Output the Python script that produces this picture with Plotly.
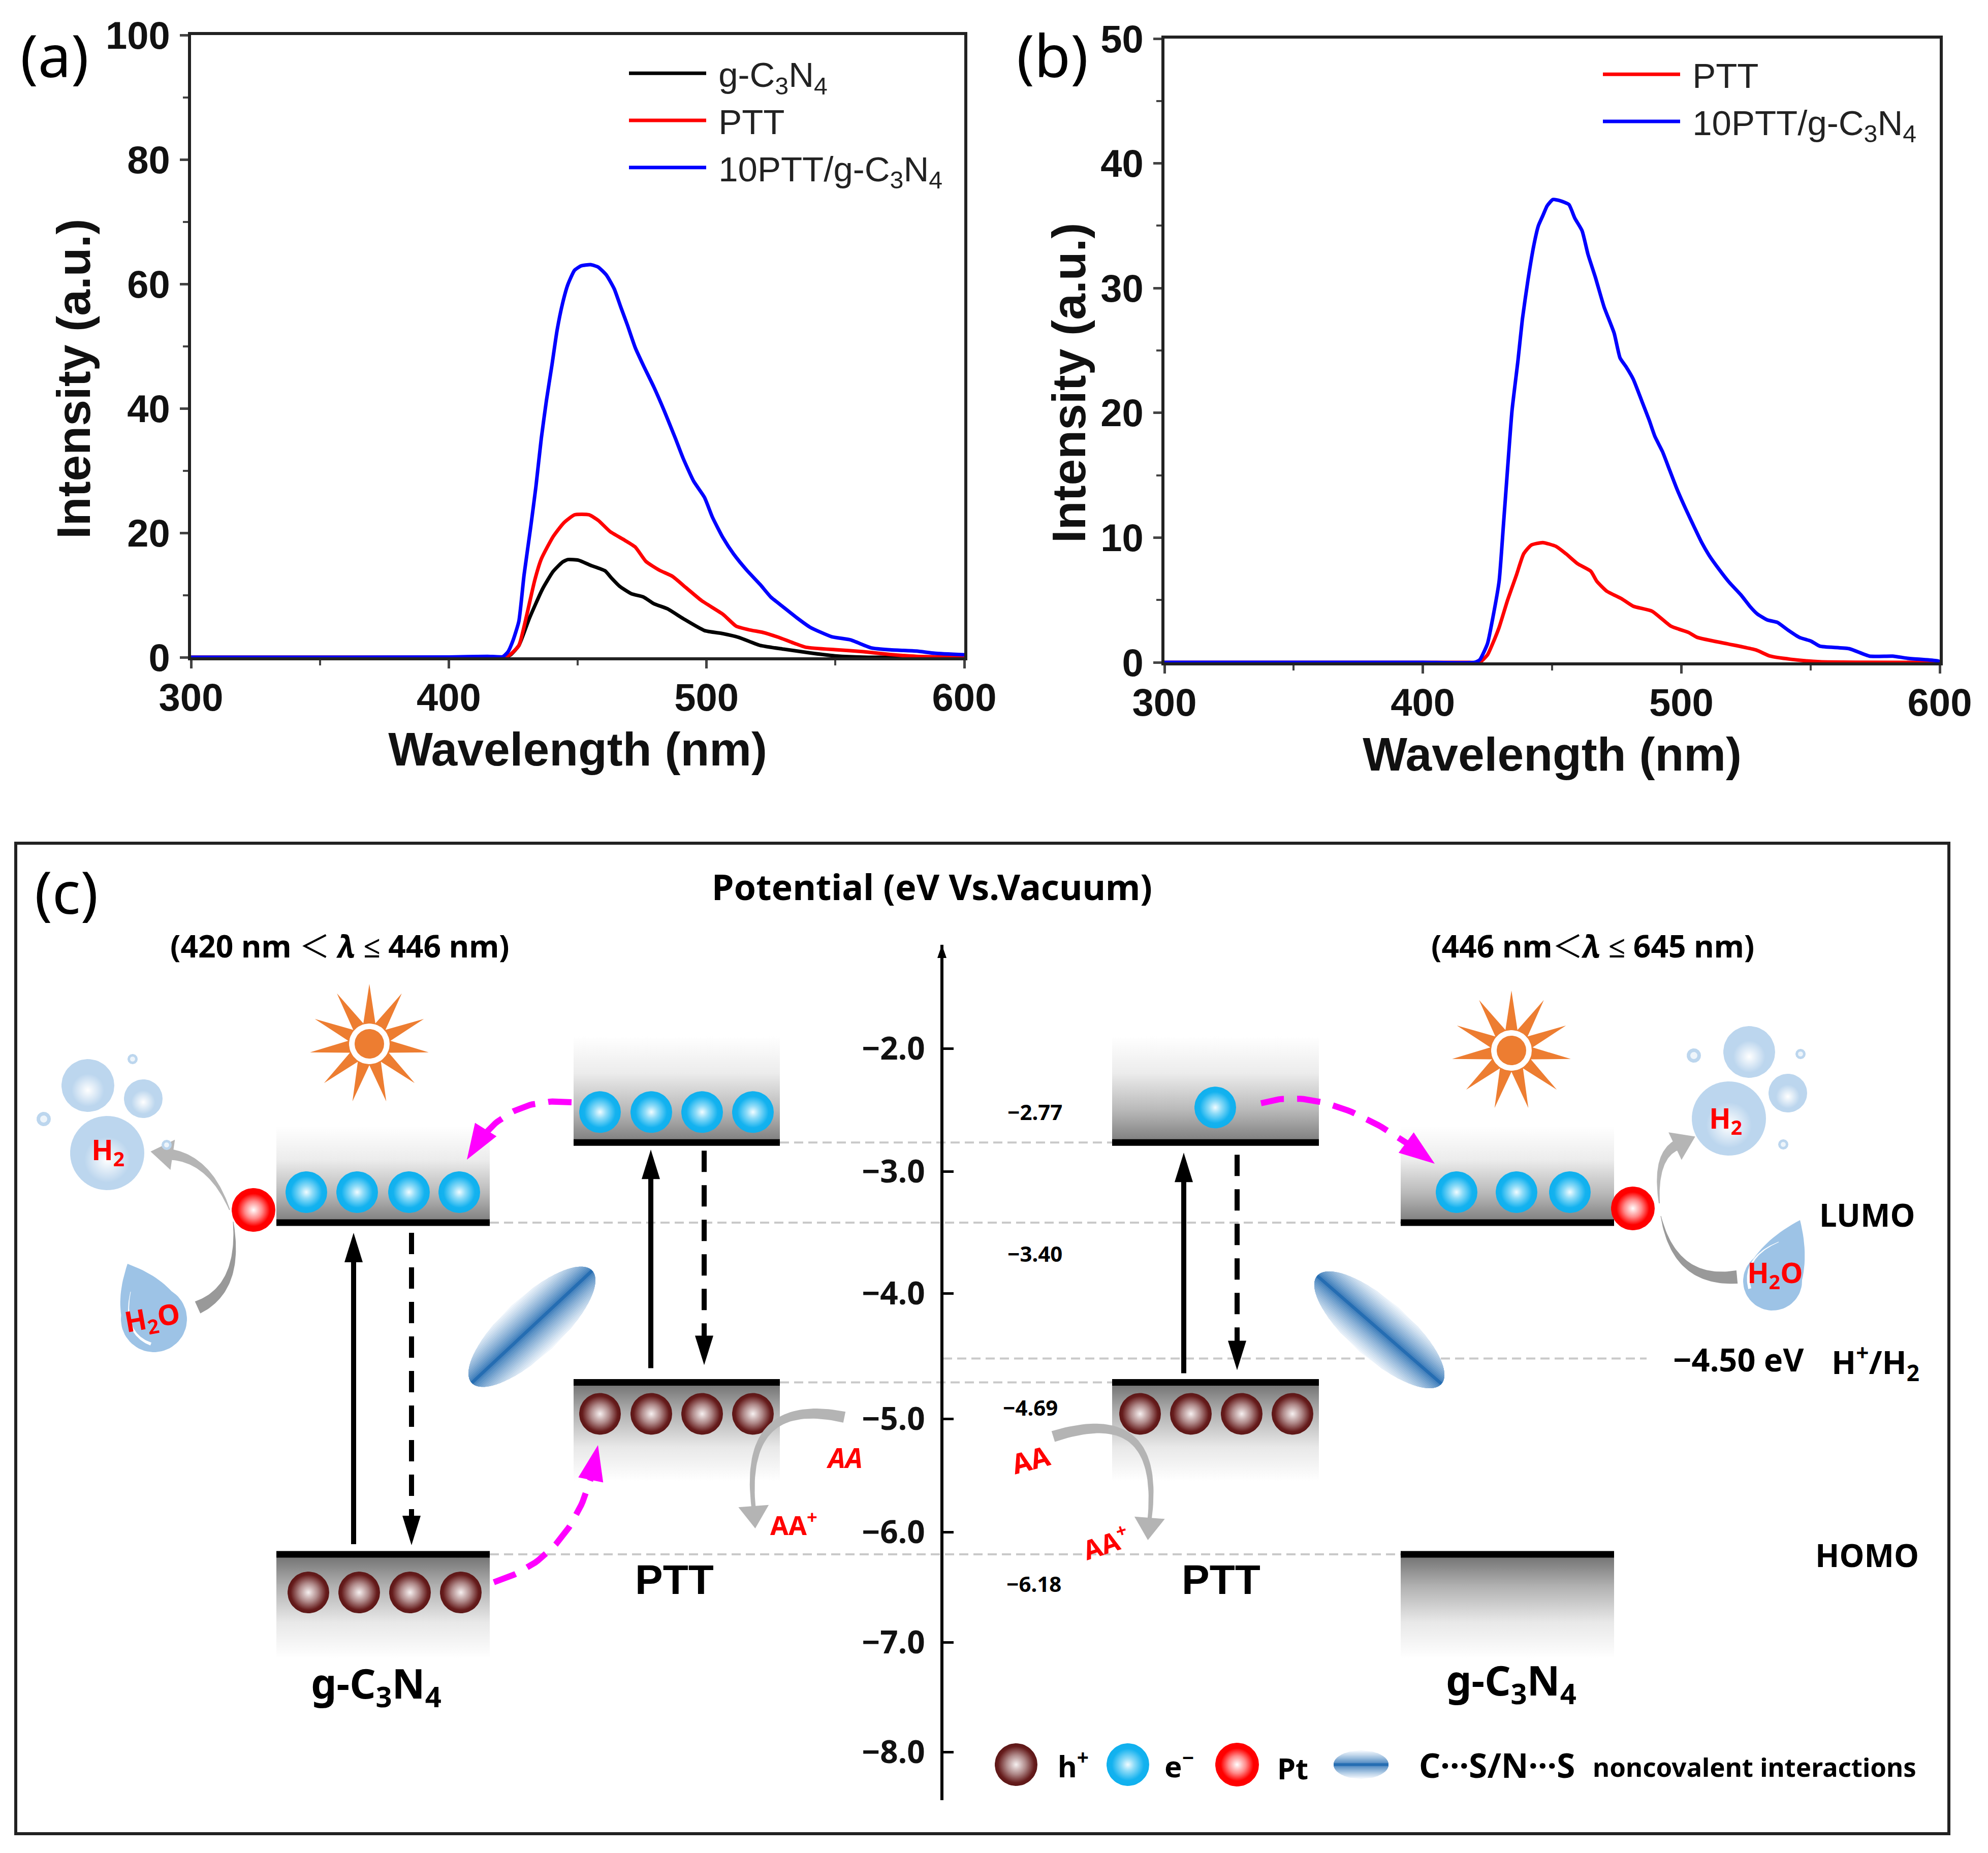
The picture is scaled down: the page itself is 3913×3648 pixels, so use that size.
import numpy as np
import plotly.graph_objects as go

W, H = 3913, 3648

# ---- panel (a) curves
a_gcn_x = [300, 360, 400, 418, 421.5, 424, 427.2, 431.3, 436.4, 440.5, 444.1, 446.2, 450.3, 454.9, 460.6, 463.2, 466.3,
           470.9, 475.5, 479.6, 484.8, 491, 499.2, 506.4, 512.5, 520.8, 530, 540.3, 550.6, 560.9, 600]
a_gcn_y = [0, 0, 0, 0, 0, 0.4, 1.9, 6.3, 11, 13.8, 15.3, 15.7, 15.6, 14.8, 13.9, 12.7, 11.4,
           10.2, 9.7, 8.6, 7.8, 6.2, 4.3, 3.8, 3.2, 1.9, 1.3, 0.7, 0.2, 0.02, 0]
a_ptt_x = [300, 360, 400, 418, 421.5, 424, 427.2, 430.2, 433.3, 435.9, 440.5, 444.6, 448.8, 454.4, 458, 462.6, 468.3,
           472.4, 476.5, 481.7, 486.8, 492, 498.1, 506.4, 511.5, 516.7, 521.8, 528, 533.1, 538.7, 550.6, 560.9, 571.2,
           581.5, 600]
a_ptt_y = [0, 0, 0, 0.02, 0, 0.5, 1.9, 6.7, 12.3, 15.8, 19.4, 21.6, 22.9, 22.9, 22, 20.2, 18.8,
           17.7, 15.4, 14, 13, 11.2, 9.1, 6.9, 5, 4.4, 4, 3.2, 2.4, 1.6, 1.2, 0.9, 0.45,
           0.15, 0.05]
a_blend_x = [300, 360, 400, 415, 421, 423, 425, 427.2, 429.2, 431.8, 433.8, 435.9, 437.9, 440, 442, 444.1, 446.2, 448.8,
             451.3, 455, 458, 461.2, 464.2, 466.8, 469.3, 472.4, 475.5, 479.6, 483.7, 487.9, 490.9, 495, 499.2, 502.3,
             506.4, 510.5, 515.6, 520.8, 524.9, 530, 535.2, 540.3, 548.6, 555.8, 564, 571.2, 581.5, 588.5, 600]
a_blend_y = [0, 0, 0.05, 0.15, 0.1, 0.9, 2.8, 5.8, 13.2, 21, 27.4, 35.2, 41.3, 46.9, 52.5, 56.8, 59.9, 62.2,
             62.9, 63.1, 62.7, 61.4, 59.2, 56.2, 53.4, 49.7, 46.9, 43.4, 39.5, 35.2, 32, 28.3, 25.7, 22.5,
             19.2, 16.6, 14, 11.7, 9.7, 8, 6.3, 4.8, 3.3, 2.8, 1.5, 1.2, 1.0, 0.65, 0.4]

# ---- panel (b) curves
b_ptt_x = [300, 360, 400, 418, 422, 425, 427, 429.5, 432.8, 436.2, 439, 441.9, 446.4, 451.5, 455.4, 459.9, 465, 467.3,
           471.2, 476.9, 481.4, 488.7, 496, 502.8, 506.2, 517.5, 528.8, 534.4, 542.3, 553.6, 600]
b_ptt_y = [0, 0, 0, 0, 0, 0.6, 1.5, 2.8, 5, 7, 8.7, 9.4, 9.6, 9.3, 8.7, 7.9, 7.3, 6.5,
           5.7, 5.1, 4.5, 4.1, 2.9, 2.4, 2, 1.5, 1, 0.5, 0.25, 0.05, 0]
b_blend_x = [300, 360, 400, 420, 422, 425, 427, 429.5, 431.2, 432.8, 434.5, 436.8, 438.5, 440.7, 443, 444.7, 446.4,
             448.1, 450.3, 453.2, 456.5, 458.8, 461.6, 463.9, 466.7, 470.1, 474, 476.3, 478.6, 481.4, 484.8, 487.6,
             489.8, 492.7, 495.5, 498.3, 501.7, 505.1, 507.9, 510.7, 514.1, 518.6, 523.1, 526.5, 529.3, 533.3, 537.2,
             541.2, 545.7, 550.2, 553.6, 564.9, 572.8, 581.8, 587.5, 599.3, 600]
b_blend_y = [0, 0, 0, 0, 0.2, 1.5, 3.5, 6.5, 11.1, 15.6, 20.2, 24.2, 27.5, 30.7, 33.5, 35, 35.8,
             36.6, 37.1, 37, 36.7, 35.6, 34.6, 32.7, 30.9, 28.5, 26.4, 24.4, 23.7, 22.7, 20.9, 19.4,
             18.1, 16.9, 15.4, 13.9, 12.3, 10.8, 9.6, 8.6, 7.6, 6.4, 5.4, 4.5, 3.9, 3.4, 3.2,
             2.6, 2, 1.7, 1.3, 1.1, 0.5, 0.5, 0.33, 0.12, 0.05]

# ---- panel (c) energy scale and levels
potential_ticks = [-2.0, -3.0, -4.0, -5.0, -6.0, -7.0, -8.0]
potential_labels = ["\u22122.0", "\u22123.0", "\u22124.0", "\u22125.0", "\u22126.0", "\u22127.0", "\u22128.0"]
ptt_lumo, ptt_homo = -2.77, -4.69
gcn_lumo, gcn_homo = -3.40, -6.18
h2_level = -4.50

# where the hand drawn scale of panel (c) puts its ticks on the page
tick_px = [2064, 2306, 2546, 2793, 3016, 3233, 3449]
LEVEL_SHIFT = 5

BLACK = "#111111"
BODY = "Noto Sans"
ARIAL = "Liberation Sans"
E_STOPS = [[0, "#f2fcff"], [0.3, "#8fdcf8"], [0.75, "#14b2ef"], [1, "#0fb0ee"]]
H_STOPS = [[0, "#f6f0f0"], [0.45, "#b08a8a"], [0.85, "#661c1c"], [1, "#5c1616"]]
PT_STOPS = [[0, "#ffffff"], [0.4, "#ff8a8a"], [0.75, "#ff0000"], [1, "#ff0000"]]
LT = "<span style=\"font-family:'Noto Sans CJK SC';font-weight:400\">\uff1c</span>"


def ev_y(ev):
    return float(np.interp(-ev, [-t for t in potential_ticks], tick_px)) + LEVEL_SHIFT


fig = go.Figure()


def page_trace(**kw):
    kw.setdefault("mode", "lines")
    fig.add_trace(go.Scatter(xaxis="x3", yaxis="y3", showlegend=False, hoverinfo="skip", **kw))


def polygon(xs, ys, color):
    page_trace(x=list(xs), y=list(ys), fill="toself", fillcolor=color, line=dict(width=0, color=color))


def ball(cx, cy, r, stops, n=60):
    t = np.linspace(0, 2 * np.pi, n)
    page_trace(x=cx + r * np.cos(t), y=cy + r * np.sin(t), fill="toself", line=dict(width=0),
               fillgradient=dict(type="radial", colorscale=stops))


def disc(cx, cy, r, color, n=60):
    t = np.linspace(0, 2 * np.pi, n)
    polygon(cx + r * np.cos(t), cy + r * np.sin(t), color)


def bezier(p0, c, p1, n=50):
    t = np.linspace(0, 1, n)[:, None]
    p = (1 - t) ** 2 * np.array(p0) + 2 * t * (1 - t) * np.array(c) + t ** 2 * np.array(p1)
    return p[:, 0], p[:, 1]


def head(tip, frm, length, half, color):
    d = np.array(tip, float) - np.array(frm, float)
    d = d / np.hypot(*d)
    n = np.array([-d[1], d[0]])
    base = np.array(tip) - d * length
    a, b = base + n * half, base - n * half
    polygon([tip[0], a[0], b[0], tip[0]], [tip[1], a[1], b[1], tip[1]], color)


def straight_arrow(x, y0, y1, dash=None):
    sign = 1 if y1 > y0 else -1
    page_trace(x=[x, x], y=[y0, y1 - sign * 40], line=dict(color="black", width=10, dash=dash))
    head((x, y1), (x, y0), 58, 18, "black")


def magenta_arrow(p0, c, p1):
    xs, ys = bezier(p0, c, p1)
    # stop the dashed part at the base of the head
    page_trace(x=xs[:-4], y=ys[:-4], line=dict(color="#ff00ff", width=12, dash="46px,26px"))
    head(p1, (xs[-8], ys[-8]), 70, 25, "#ff00ff")


def taper(p0, c, p1, w0, w1, color, arrow=False):
    xs, ys = bezier(p0, c, p1)
    dx, dy = np.gradient(xs), np.gradient(ys)
    s = np.hypot(dx, dy)
    w = np.linspace(w0, w1, len(xs)) / 2
    top_x, top_y = xs - dy / s * w, ys + dx / s * w
    low_x, low_y = xs + dy / s * w, ys - dx / s * w
    polygon(np.r_[top_x, low_x[::-1]], np.r_[top_y, low_y[::-1]], color)
    if arrow:
        d = np.array([xs[-1] - xs[-6], ys[-1] - ys[-6]])
        d = d / np.hypot(*d)
        tip = (xs[-1] + d[0] * 34, ys[-1] + d[1] * 34)
        head(tip, (xs[-1], ys[-1]), 44, 30, color)


def level_box(x0, x1, y_level, reach):
    # reach < 0: grey fades upward from the bar, reach > 0: fades downward
    far = y_level + reach
    top, low = min(y_level, far), max(y_level, far)
    if reach < 0:
        stops = [[0, "#ffffff"], [0.35, "#ececec"], [0.7, "#b8b8b8"], [1, "#7c7c7c"]]
    else:
        stops = [[0, "#6f6f6f"], [0.3, "#b0b0b0"], [0.65, "#e8e8e8"], [1, "#ffffff"]]
    page_trace(x=[x0, x1, x1, x0, x0], y=[top, top, low, low, top], fill="toself", line=dict(width=0),
               fillgradient=dict(type="vertical", colorscale=stops, start=top, stop=low))
    page_trace(x=[x0, x1], y=[y_level, y_level], line=dict(color="black", width=13))


def stripe_ellipse(cx, cy, a, b, angle, bands=18):
    rad = np.radians(angle)
    edge = np.array([240, 246, 252])
    core = np.array([37, 109, 178])
    for k in range(bands, 0, -1):
        frac = k / bands
        v_max = b * frac
        v = np.linspace(-v_max, v_max, 30)
        u = a * np.sqrt(np.clip(1 - (v / b) ** 2, 0, 1))
        lu, lv = np.r_[u, -u[::-1]], np.r_[v, v[::-1]]
        col = core + (edge - core) * (frac ** 0.8 if k > 1 else 0)
        polygon(cx + lu * np.cos(rad) - lv * np.sin(rad), cy + lu * np.sin(rad) + lv * np.cos(rad),
                "rgb(%d,%d,%d)" % tuple(col))


def sun(cx, cy):
    n = 11
    ang = -np.pi / 2 + np.arange(2 * n + 1) * np.pi / n
    rad = np.where(np.arange(2 * n + 1) % 2 == 0, 118, 42)
    polygon(cx + rad * np.cos(ang), cy + rad * np.sin(ang), "#ed7d31")
    disc(cx, cy, 40, "white")
    disc(cx, cy, 29, "#ed7d31")


def bubble(cx, cy, r):
    disc(cx, cy, r, "#bcd6ee")
    ball(cx, cy + 0.18 * r, 0.62 * r, [[0, "rgba(255,255,255,1)"], [1, "rgba(255,255,255,0)"]])


def ring(cx, cy, r):
    disc(cx, cy, r, "#bcd6ee")
    disc(cx, cy, 0.5 * r, "#eef5fb")


def drop(cx, cy, r, tip):
    dx, dy = tip[0] - cx, tip[1] - cy
    dist = np.hypot(dx, dy)
    mid = np.arctan2(dy, dx)
    off = np.arccos(r / dist)
    t = np.linspace(mid + off, mid + 2 * np.pi - off, 50)
    arc_x, arc_y = cx + r * np.cos(t), cy + r * np.sin(t)
    ux, uy = bezier((arc_x[-1], arc_y[-1]), ((arc_x[-1] + tip[0]) / 2 + 0.12 * dy, (arc_y[-1] + tip[1]) / 2 - 0.12 * dx), tip, 15)
    vx, vy = bezier(tip, ((arc_x[0] + tip[0]) / 2 - 0.12 * dy, (arc_y[0] + tip[1]) / 2 + 0.12 * dx), (arc_x[0], arc_y[0]), 15)
    polygon(np.r_[arc_x, ux, vx], np.r_[arc_y, uy, vy], "#9dc3e6")


def note(x, y, text, size, color="black", weight=700, angle=0, family=BODY):
    fig.add_annotation(x=x, y=y, xref="x3", yref="y3", text=text, showarrow=False, textangle=angle,
                       xanchor="center", yanchor="middle", font=dict(family=family, size=size, color=color, weight=weight))


def curve_line(color):
    return dict(color=color, width=7, shape="spline", smoothing=0.5)


# ---- spectra
fig.add_trace(go.Scatter(x=a_gcn_x, y=a_gcn_y, name="\u00a0g-C<sub>3</sub>N<sub>4</sub>", mode="lines", line=curve_line("black"), cliponaxis=False))
fig.add_trace(go.Scatter(x=a_ptt_x, y=a_ptt_y, name="\u00a0PTT", mode="lines", line=curve_line("#ff0000"), cliponaxis=False))
fig.add_trace(go.Scatter(x=a_blend_x, y=a_blend_y, name="\u00a010PTT/g-C<sub>3</sub>N<sub>4</sub>", mode="lines", line=curve_line("#0000ff"), cliponaxis=False))
fig.add_trace(go.Scatter(x=b_ptt_x, y=b_ptt_y, name="\u00a0PTT", mode="lines", line=curve_line("#ff0000"), xaxis="x2", yaxis="y2", legend="legend2", cliponaxis=False))
fig.add_trace(go.Scatter(x=b_blend_x, y=b_blend_y, name="\u00a010PTT/g-C<sub>3</sub>N<sub>4</sub>", mode="lines", line=curve_line("#0000ff"), xaxis="x2", yaxis="y2", legend="legend2", cliponaxis=False))

# ---- panel (c): dashed guide lines
y_pl, y_ph, y_gl, y_gh, y_h2 = ev_y(ptt_lumo) - 6, ev_y(ptt_homo), ev_y(gcn_lumo), ev_y(gcn_homo), ev_y(h2_level)
guide = dict(color="#c9c9c9", width=4, dash="18px,10px")
page_trace(x=[1535, 2189], y=[y_pl, y_pl], line=guide)
page_trace(x=[964, 2757], y=[y_gl, y_gl], line=guide)
page_trace(x=[1856, 3241], y=[y_h2, y_h2], line=guide)
page_trace(x=[1535, 2189], y=[y_ph, y_ph], line=guide)
page_trace(x=[964, 2757], y=[y_gh, y_gh], line=guide)

# level boxes
level_box(544, 964, y_gl, -190)
level_box(544, 964, y_gh, 205)
level_box(1129, 1535, y_pl, -210)
level_box(1129, 1535, y_ph, 195)
level_box(2189, 2596, y_pl, -210)
level_box(2189, 2596, y_ph, 195)
level_box(2757, 3177, y_gl, -190)
level_box(2757, 3177, y_gh, 205)

# electrons and holes
for x in [603, 703, 805, 904]:
    ball(x, y_gl - 60, 41, E_STOPS)
for x in [1181, 1282, 1382, 1482]:
    ball(x, y_pl - 60, 41, E_STOPS)
    ball(x, y_ph + 62, 41, H_STOPS)
for x in [607, 707, 807, 907]:
    ball(x, y_gh + 75, 41, H_STOPS)
ball(2392, y_pl - 69, 41, E_STOPS)
for x in [2244, 2344, 2444, 2544]:
    ball(x, y_ph + 62, 41, H_STOPS)
for x in [2867, 2985, 3090]:
    ball(x, y_gl - 60, 41, E_STOPS)

# arrows
straight_arrow(696, y_gh - 20, y_gl + 20)
straight_arrow(810, y_gl + 20, y_gh - 18, dash="42px,26px")
straight_arrow(1281, y_ph - 28, y_pl + 14)
straight_arrow(1386, y_pl + 16, y_ph - 34, dash="42px,26px")
straight_arrow(2330, y_ph - 18, y_pl + 20)
straight_arrow(2435, y_pl + 24, y_ph - 24, dash="42px,26px")
magenta_arrow((1125, 2170), (988, 2155), (919, 2283))
magenta_arrow((972, 3115), (1144, 3064), (1177, 2845))
magenta_arrow((2482, 2172), (2619, 2128), (2824, 2291))

taper((452, 2382), (412, 2279), (330, 2272), 2, 22, "#b5b5b5", arrow=True)
taper((389, 2574), (475, 2537), (459, 2405), 26, 1, "#999999")
taper((3266, 2369), (3256, 2270), (3306, 2252), 2, 22, "#b5b5b5", arrow=True)
taper((3419, 2514), (3297, 2527), (3269, 2394), 26, 1, "#999999")
taper((1662, 2790), (1456, 2746), (1484, 2975), 22, 8, "#b4b4b4", arrow=True)
taper((2073, 2828), (2292, 2758), (2262, 2998), 22, 8, "#b4b4b4", arrow=True)

# platinum dots, interaction ellipses, suns
ball(499, 2382, 43, PT_STOPS)
ball(3214, 2379, 43, PT_STOPS)
stripe_ellipse(1047, 2612, 162, 58, -43)
stripe_ellipse(2715, 2618, 162, 58, 41)
sun(727, 2055)
sun(2975, 2068)

# bubbles and drops
for cx, cy, r in [(211, 2270, 73), (173, 2137, 52), (282, 2163, 38), (3403, 2202, 73), (3443, 2071, 51), (3519, 2152, 38)]:
    bubble(cx, cy, r)
for cx, cy, r in [(86, 2203, 14), (261, 2085, 10), (328, 2254, 10), (3334, 2078, 14), (3544, 2075, 10), (3510, 2253, 10)]:
    ring(cx, cy, r)
drop(303, 2597, 65, (251, 2488))
drop(3489, 2522, 58, (3543, 2402))
taper((257, 2543), (240, 2625), (297, 2646), 1, 6, "white")
taper((3501, 2445), (3428, 2476), (3444, 2537), 1, 6, "white")

# legend row of panel (c)
ball(2000, 3474, 42, H_STOPS)
ball(2220, 3474, 42, E_STOPS)
ball(2435, 3474, 43, PT_STOPS)
stripe_ellipse(2679, 3474, 54, 28, 0, bands=10)

# the scale of panel (c): arrow head on top, axis itself comes from yaxis4
fig.add_trace(go.Scatter(x=[1854, 1854], y=tick_px, xaxis="x3", yaxis="y4", mode="lines", line=dict(width=0),
                         showlegend=False, hoverinfo="skip"))
head((1854, 1860), (1854, 1900), 26, 9, "black")

# ---- texts
note(107, 107, "(a)", 116, weight=400)
note(2071, 107, "(b)", 116, weight=400)
note(130, 1754, "(c)", 116, weight=400)
note(145, 746, "Intensity (a.u.)", 93, color=BLACK, family=ARIAL, angle=-90)
note(2104, 754, "Intensity (a.u.)", 93, color=BLACK, family=ARIAL, angle=-90)
note(1834, 1745, "Potential (eV Vs.Vacuum)", 70)
note(669, 1859, "(420 nm " + LT + " <i>\u03bb</i> \u2264 446 nm)", 60.5)
note(3135, 1859, "(446 nm" + LT + "<i>\u03bb</i> \u2264 645 nm)", 60.5)
note(1327, 3109, "PTT", 82, family=ARIAL)
note(2403, 3109, "PTT", 82, family=ARIAL)
note(740, 3317, "g-C<sub>3</sub>N<sub>4</sub>", 80)
note(2974, 3311, "g-C<sub>3</sub>N<sub>4</sub>", 80)
note(3675, 2391, "LUMO", 62)
note(3675, 3061, "HOMO", 62)
note(3421, 2675, "\u22124.50 eV", 63)
note(3691, 2682, "H<sup>+</sup>/H<sub>2</sub>", 63)
note(2037, 2188, "\u22122.77", 42)
note(2037, 2467, "\u22123.40", 42)
note(2028, 2770, "\u22124.69", 42)
note(2035, 3117, "\u22126.18", 42)
note(212, 2265, "H<sub>2</sub>", 56, color="#ff0000")
note(3396, 2203, "H<sub>2</sub>", 56, color="#ff0000")
note(300, 2595, "H<sub>2</sub>O", 56, color="#ff0000", angle=-10)
note(3494, 2507, "H<sub>2</sub>O", 56, color="#ff0000")
note(1662, 2869, "<i>AA</i>", 54, color="#ff0000")
note(1562, 2999, "AA<sup>+</sup>", 52, color="#ff0000")
note(2028, 2873, "AA", 54, color="#ff0000", angle=-15)
note(2176, 3036, "AA<sup>+</sup>", 52, color="#ff0000", angle=-18)
note(2112, 3474, "h<sup>+</sup>", 58)
note(2321, 3474, "e<sup>\u2212</sup>", 58)
note(2544, 3480, "Pt", 58)
note(2946, 3474, "C\u00b7\u00b7\u00b7S/N\u00b7\u00b7\u00b7S", 66)
note(3453, 3478, "noncovalent interactions", 51)

# frame of panel (c)
fig.add_shape(type="rect", xref="paper", yref="paper", x0=31 / W, x1=3836 / W, y0=1 - 3610 / H, y1=1 - 1660 / H,
              line=dict(color="#222222", width=6), fillcolor="rgba(0,0,0,0)", layer="below")

tick_font = dict(family=ARIAL, size=76, color=BLACK, weight=700)
title_font = dict(family=ARIAL, size=93, color=BLACK, weight=700)


def spectrum_axes(x0, x1, y0, y1, ymax, ystep):
    xa = dict(domain=[x0 / W, x1 / W], range=[300, 600], dtick=100, tick0=300, ticks="outside", ticklen=16, tickwidth=5,
              minor=dict(dtick=50, ticks="outside", ticklen=10, tickwidth=4, showgrid=False),
              showline=True, linewidth=6, linecolor="#222222", mirror=True, showgrid=False, zeroline=False,
              ticklabelstandoff=-8, tickfont=tick_font, title=dict(text="Wavelength (nm)", font=title_font, standoff=30))
    ya = dict(domain=[1 - y1 / H, 1 - y0 / H], range=[0, ymax], dtick=ystep, ticks="outside", ticklen=16, tickwidth=5,
              minor=dict(dtick=ystep / 2, ticks="outside", ticklen=10, tickwidth=4, showgrid=False),
              showline=True, linewidth=6, linecolor="#222222", mirror=True, showgrid=False, zeroline=False,
              ticklabelstandoff=4, tickfont=tick_font)
    return xa, ya


xa1, ya1 = spectrum_axes(376, 1898, 69, 1294, 100, 20)
xa2, ya2 = spectrum_axes(2292, 3818, 76, 1304, 50, 10)

legend_style = dict(xanchor="left", yanchor="top", bgcolor="rgba(0,0,0,0)", borderwidth=0, itemwidth=152,
                    tracegroupgap=0, font=dict(family=ARIAL, size=69, color="#222222"), itemclick=False)

fig.update_layout(
    width=W, height=H, template="none", paper_bgcolor="white", plot_bgcolor="rgba(0,0,0,0)",
    margin=dict(l=0, r=0, t=0, b=0), autosize=False, hovermode=False,
    xaxis=dict(**xa1, anchor="y"), yaxis=dict(**ya1, anchor="x"),
    xaxis2=dict(**xa2, anchor="y2"), yaxis2=dict(**ya2, anchor="x2"),
    xaxis3=dict(domain=[0, 1], range=[0, W], visible=False, anchor="y3"),
    yaxis3=dict(domain=[0, 1], range=[H, 0], visible=False, anchor="x3"),
    yaxis4=dict(domain=[1 - 3544 / H, 1 - 1860 / H], range=[3544, 1860], anchor="free", position=1854 / W,
                tickmode="array", tickvals=tick_px, ticktext=potential_labels, ticks="inside", ticklen=20, tickwidth=5,
                ticklabelstandoff=18, showline=True, linewidth=6, linecolor="black", showgrid=False, zeroline=False,
                tickcolor="black", tickfont=dict(family=BODY, size=62, color=BLACK, weight=700)),
    legend=dict(x=1233 / W, y=1 - 93 / H, **legend_style),
    legend2=dict(x=3150 / W, y=1 - 95 / H, **legend_style),
)

fig.write_html("out.html", post_script="document.body.style.margin='0';", config=dict(displayModeBar=False))
